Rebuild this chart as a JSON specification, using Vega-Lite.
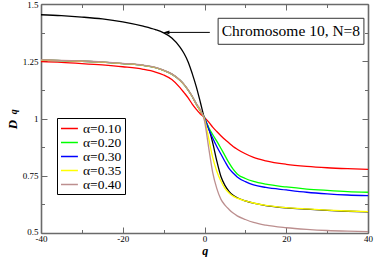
{
  "$schema": "https://vega.github.io/schema/vega-lite/v6.json",
  "width": 327,
  "height": 229,
  "autosize": {"type": "none"},
  "padding": {"left": 41, "top": 4, "right": 6, "bottom": 24},
  "background": "white",
  "config": {
    "view": {"stroke": null},
    "font": "Liberation Serif",
    "axis": {
      "grid": false,
      "domainColor": "#6a6a6a",
      "domainWidth": 1.6,
      "tickColor": "#6a6a6a",
      "tickWidth": 1,
      "labelFont": "Liberation Serif",
      "labelFontSize": 9,
      "labelColor": "black",
      "labelFlush": false,
      "labelOverlap": false,
      "titleFont": "Liberation Serif",
      "titleColor": "black"
    }
  },
  "datasets": {
    "alpha": [
      {"series": "α=0.10", "q": -40, "D": 1.248}, {"series": "α=0.10", "q": -35, "D": 1.245}, {"series": "α=0.10", "q": -30, "D": 1.240}, {"series": "α=0.10", "q": -25, "D": 1.234}, {"series": "α=0.10", "q": -20, "D": 1.226}, {"series": "α=0.10", "q": -15, "D": 1.215}, {"series": "α=0.10", "q": -12, "D": 1.203}, {"series": "α=0.10", "q": -10, "D": 1.190}, {"series": "α=0.10", "q": -8, "D": 1.170}, {"series": "α=0.10", "q": -6, "D": 1.135}, {"series": "α=0.10", "q": -5, "D": 1.113}, {"series": "α=0.10", "q": -4, "D": 1.090}, {"series": "α=0.10", "q": -3, "D": 1.063}, {"series": "α=0.10", "q": -2, "D": 1.040}, {"series": "α=0.10", "q": -1, "D": 1.020}, {"series": "α=0.10", "q": 0, "D": 1.005}, {"series": "α=0.10", "q": 1, "D": 0.985}, {"series": "α=0.10", "q": 2, "D": 0.962}, {"series": "α=0.10", "q": 3, "D": 0.943}, {"series": "α=0.10", "q": 4, "D": 0.925}, {"series": "α=0.10", "q": 5, "D": 0.908}, {"series": "α=0.10", "q": 6, "D": 0.893}, {"series": "α=0.10", "q": 7, "D": 0.878}, {"series": "α=0.10", "q": 8, "D": 0.866}, {"series": "α=0.10", "q": 10, "D": 0.846}, {"series": "α=0.10", "q": 12, "D": 0.830}, {"series": "α=0.10", "q": 15, "D": 0.815}, {"series": "α=0.10", "q": 20, "D": 0.800}, {"series": "α=0.10", "q": 25, "D": 0.791}, {"series": "α=0.10", "q": 30, "D": 0.785}, {"series": "α=0.10", "q": 35, "D": 0.781}, {"series": "α=0.10", "q": 40, "D": 0.778},
      {"series": "α=0.20", "q": -40, "D": 1.255}, {"series": "α=0.20", "q": -35, "D": 1.253}, {"series": "α=0.20", "q": -30, "D": 1.250}, {"series": "α=0.20", "q": -25, "D": 1.246}, {"series": "α=0.20", "q": -20, "D": 1.240}, {"series": "α=0.20", "q": -15, "D": 1.232}, {"series": "α=0.20", "q": -12, "D": 1.222}, {"series": "α=0.20", "q": -10, "D": 1.210}, {"series": "α=0.20", "q": -8, "D": 1.194}, {"series": "α=0.20", "q": -6, "D": 1.167}, {"series": "α=0.20", "q": -5, "D": 1.148}, {"series": "α=0.20", "q": -4, "D": 1.124}, {"series": "α=0.20", "q": -3, "D": 1.096}, {"series": "α=0.20", "q": -2, "D": 1.063}, {"series": "α=0.20", "q": -1, "D": 1.033}, {"series": "α=0.20", "q": 0, "D": 1.003}, {"series": "α=0.20", "q": 1, "D": 0.962}, {"series": "α=0.20", "q": 2, "D": 0.930}, {"series": "α=0.20", "q": 3, "D": 0.901}, {"series": "α=0.20", "q": 4, "D": 0.870}, {"series": "α=0.20", "q": 5, "D": 0.838}, {"series": "α=0.20", "q": 6, "D": 0.806}, {"series": "α=0.20", "q": 7, "D": 0.779}, {"series": "α=0.20", "q": 8, "D": 0.758}, {"series": "α=0.20", "q": 10, "D": 0.738}, {"series": "α=0.20", "q": 12, "D": 0.725}, {"series": "α=0.20", "q": 15, "D": 0.713}, {"series": "α=0.20", "q": 20, "D": 0.701}, {"series": "α=0.20", "q": 25, "D": 0.692}, {"series": "α=0.20", "q": 30, "D": 0.686}, {"series": "α=0.20", "q": 35, "D": 0.681}, {"series": "α=0.20", "q": 40, "D": 0.678},
      {"series": "α=0.30", "q": -40, "D": 1.255}, {"series": "α=0.30", "q": -35, "D": 1.253}, {"series": "α=0.30", "q": -30, "D": 1.250}, {"series": "α=0.30", "q": -25, "D": 1.246}, {"series": "α=0.30", "q": -20, "D": 1.240}, {"series": "α=0.30", "q": -15, "D": 1.232}, {"series": "α=0.30", "q": -12, "D": 1.222}, {"series": "α=0.30", "q": -10, "D": 1.210}, {"series": "α=0.30", "q": -8, "D": 1.194}, {"series": "α=0.30", "q": -6, "D": 1.167}, {"series": "α=0.30", "q": -5, "D": 1.148}, {"series": "α=0.30", "q": -4, "D": 1.124}, {"series": "α=0.30", "q": -3, "D": 1.096}, {"series": "α=0.30", "q": -2, "D": 1.063}, {"series": "α=0.30", "q": -1, "D": 1.033}, {"series": "α=0.30", "q": 0, "D": 1.003}, {"series": "α=0.30", "q": 1, "D": 0.955}, {"series": "α=0.30", "q": 2, "D": 0.915}, {"series": "α=0.30", "q": 3, "D": 0.878}, {"series": "α=0.30", "q": 4, "D": 0.845}, {"series": "α=0.30", "q": 5, "D": 0.812}, {"series": "α=0.30", "q": 6, "D": 0.782}, {"series": "α=0.30", "q": 7, "D": 0.762}, {"series": "α=0.30", "q": 8, "D": 0.745}, {"series": "α=0.30", "q": 10, "D": 0.724}, {"series": "α=0.30", "q": 12, "D": 0.710}, {"series": "α=0.30", "q": 15, "D": 0.699}, {"series": "α=0.30", "q": 20, "D": 0.688}, {"series": "α=0.30", "q": 25, "D": 0.678}, {"series": "α=0.30", "q": 30, "D": 0.671}, {"series": "α=0.30", "q": 35, "D": 0.666}, {"series": "α=0.30", "q": 40, "D": 0.663},
      {"series": "α=0.35", "q": -40, "D": 1.255}, {"series": "α=0.35", "q": -35, "D": 1.253}, {"series": "α=0.35", "q": -30, "D": 1.250}, {"series": "α=0.35", "q": -25, "D": 1.246}, {"series": "α=0.35", "q": -20, "D": 1.240}, {"series": "α=0.35", "q": -15, "D": 1.232}, {"series": "α=0.35", "q": -12, "D": 1.222}, {"series": "α=0.35", "q": -10, "D": 1.210}, {"series": "α=0.35", "q": -8, "D": 1.194}, {"series": "α=0.35", "q": -6, "D": 1.167}, {"series": "α=0.35", "q": -5, "D": 1.148}, {"series": "α=0.35", "q": -4, "D": 1.124}, {"series": "α=0.35", "q": -3, "D": 1.096}, {"series": "α=0.35", "q": -2, "D": 1.063}, {"series": "α=0.35", "q": -1, "D": 1.033}, {"series": "α=0.35", "q": 0, "D": 0.998}, {"series": "α=0.35", "q": 1, "D": 0.915}, {"series": "α=0.35", "q": 2, "D": 0.830}, {"series": "α=0.35", "q": 3, "D": 0.770}, {"series": "α=0.35", "q": 4, "D": 0.727}, {"series": "α=0.35", "q": 5, "D": 0.695}, {"series": "α=0.35", "q": 6, "D": 0.675}, {"series": "α=0.35", "q": 7, "D": 0.661}, {"series": "α=0.35", "q": 8, "D": 0.652}, {"series": "α=0.35", "q": 10, "D": 0.640}, {"series": "α=0.35", "q": 12, "D": 0.631}, {"series": "α=0.35", "q": 15, "D": 0.621}, {"series": "α=0.35", "q": 20, "D": 0.611}, {"series": "α=0.35", "q": 25, "D": 0.605}, {"series": "α=0.35", "q": 30, "D": 0.600}, {"series": "α=0.35", "q": 35, "D": 0.596}, {"series": "α=0.35", "q": 40, "D": 0.593},
      {"series": "α=0.40", "q": -40, "D": 1.256}, {"series": "α=0.40", "q": -35, "D": 1.254}, {"series": "α=0.40", "q": -30, "D": 1.251}, {"series": "α=0.40", "q": -25, "D": 1.247}, {"series": "α=0.40", "q": -20, "D": 1.241}, {"series": "α=0.40", "q": -15, "D": 1.233}, {"series": "α=0.40", "q": -12, "D": 1.223}, {"series": "α=0.40", "q": -10, "D": 1.211}, {"series": "α=0.40", "q": -8, "D": 1.195}, {"series": "α=0.40", "q": -6, "D": 1.168}, {"series": "α=0.40", "q": -5, "D": 1.149}, {"series": "α=0.40", "q": -4, "D": 1.125}, {"series": "α=0.40", "q": -3, "D": 1.097}, {"series": "α=0.40", "q": -2, "D": 1.065}, {"series": "α=0.40", "q": -1, "D": 1.038}, {"series": "α=0.40", "q": 0, "D": 0.990}, {"series": "α=0.40", "q": 1, "D": 0.875}, {"series": "α=0.40", "q": 2, "D": 0.765}, {"series": "α=0.40", "q": 3, "D": 0.695}, {"series": "α=0.40", "q": 4, "D": 0.648}, {"series": "α=0.40", "q": 5, "D": 0.622}, {"series": "α=0.40", "q": 6, "D": 0.603}, {"series": "α=0.40", "q": 7, "D": 0.587}, {"series": "α=0.40", "q": 8, "D": 0.575}, {"series": "α=0.40", "q": 10, "D": 0.559}, {"series": "α=0.40", "q": 12, "D": 0.546}, {"series": "α=0.40", "q": 15, "D": 0.534}, {"series": "α=0.40", "q": 20, "D": 0.523}, {"series": "α=0.40", "q": 25, "D": 0.516}, {"series": "α=0.40", "q": 30, "D": 0.511}, {"series": "α=0.40", "q": 35, "D": 0.508}, {"series": "α=0.40", "q": 40, "D": 0.506}
    ],
    "chrom": [
      {"q": -40, "D": 1.453}, {"q": -35, "D": 1.449}, {"q": -30, "D": 1.443}, {"q": -25, "D": 1.435}, {"q": -20, "D": 1.422}, {"q": -15, "D": 1.403}, {"q": -12, "D": 1.388}, {"q": -10, "D": 1.374}, {"q": -8, "D": 1.352}, {"q": -6, "D": 1.312}, {"q": -5, "D": 1.284}, {"q": -4, "D": 1.247}, {"q": -3, "D": 1.196}, {"q": -2, "D": 1.138}, {"q": -1, "D": 1.070}, {"q": 0, "D": 1.000}, {"q": 1, "D": 0.958}, {"q": 2, "D": 0.895}, {"q": 3, "D": 0.815}, {"q": 4, "D": 0.748}, {"q": 5, "D": 0.708}, {"q": 6, "D": 0.682}, {"q": 7, "D": 0.665}, {"q": 8, "D": 0.654}, {"q": 10, "D": 0.640}, {"q": 12, "D": 0.630}, {"q": 15, "D": 0.620}, {"q": 20, "D": 0.610}, {"q": 25, "D": 0.604}, {"q": 30, "D": 0.599}, {"q": 35, "D": 0.595}, {"q": 40, "D": 0.592}
    ],
    "one": [{"note": "annotation"}]
  },
  "layer": [
    {
      "data": {"name": "chrom"},
      "mark": {"type": "line", "color": "black", "strokeWidth": 1.3, "interpolate": "monotone"},
      "encoding": {
        "x": {
          "field": "q", "type": "quantitative",
          "scale": {"domain": [-40, 40], "nice": false, "zero": false},
          "axis": {
            "orient": "bottom",
            "values": [-40, -30, -20, -10, 0, 10, 20, 30, 40],
            "labelExpr": "datum.value % 20 == 0 ? toString(datum.value) : ''",
            "tickSize": {"condition": {"test": "datum.value % 20 != 0", "value": -3.5}, "value": -6},
            "labelPadding": 7.5,
            "title": "q",
            "titleFontStyle": "italic",
            "titleFontWeight": "bold",
            "titleFontSize": 12,
            "titleX": 163.7,
            "titleY": 21,
            "titleAlign": "center",
            "titleBaseline": "alphabetic"
          }
        },
        "y": {
          "field": "D", "type": "quantitative",
          "scale": {"domain": [0.5, 1.5], "nice": false, "zero": false},
          "axis": {
            "orient": "left",
            "values": [0.5, 0.625, 0.75, 0.875, 1, 1.125, 1.25, 1.375, 1.5],
            "labelExpr": "abs(datum.value*4 - round(datum.value*4)) > 0.01 ? '' : toString(datum.value)",
            "tickSize": {"condition": {"test": "abs(datum.value*4 - round(datum.value*4)) > 0.01", "value": -3.5}, "value": -6},
            "labelOffset": {"condition": {"test": "datum.value < 0.55", "value": -2}, "value": 0},
            "labelPadding": 9,
            "title": "D",
            "titleFontStyle": "italic",
            "titleFontWeight": "bold",
            "titleFontSize": 13,
            "titleAngle": -90,
            "titleX": -25,
            "titleY": 120,
            "titleAlign": "center",
            "titleBaseline": "alphabetic"
          }
        }
      }
    },
    {
      "data": {"name": "alpha"},
      "mark": {"type": "line", "strokeWidth": 1.3, "interpolate": "monotone"},
      "encoding": {
        "x": {
          "field": "q", "type": "quantitative",
          "axis": {
            "orient": "top",
            "values": [-40, -30, -20, -10, 0, 10, 20, 30, 40],
            "labels": false,
            "title": null,
            "tickSize": {"condition": {"test": "datum.value % 20 != 0", "value": -3.5}, "value": -6}
          }
        },
        "y": {
          "field": "D", "type": "quantitative",
          "axis": {
            "orient": "right",
            "values": [0.5, 0.625, 0.75, 0.875, 1, 1.125, 1.25, 1.375, 1.5],
            "labels": false,
            "title": null,
            "tickSize": {"condition": {"test": "abs(datum.value*4 - round(datum.value*4)) > 0.01", "value": -3.5}, "value": -6}
          }
        },
        "color": {
          "field": "series", "type": "nominal",
          "scale": {
            "domain": ["α=0.10", "α=0.20", "α=0.30", "α=0.35", "α=0.40"],
            "range": ["#ff0000", "#00ff00", "#0000ff", "#ffff00", "#bc8f8f"]
          },
          "legend": {
            "orient": "none",
            "legendX": 16,
            "legendY": 114,
            "title": null,
            "symbolType": "M-1,0H1.6",
            "symbolSize": 169,
            "symbolStrokeWidth": 1.5,
            "symbolFillColor": "transparent",
            "labelFont": "Liberation Serif",
            "labelFontSize": 13.5,
            "labelColor": "black",
            "labelOffset": 8,
            "strokeColor": "black",
            "fillColor": "white",
            "padding": 3,
            "rowPadding": 0,
            "cornerRadius": 0
          }
        }
      }
    },
    {
      "data": {"name": "one"},
      "mark": {"type": "rect", "fill": "white", "stroke": "#333333", "strokeWidth": 1},
      "encoding": {
        "x": {"datum": 3.33, "type": "quantitative", "axis": null},
        "x2": {"datum": 39.0},
        "y": {"datum": 1.4376, "type": "quantitative", "axis": null},
        "y2": {"datum": 1.324}
      }
    },
    {
      "data": {"name": "one"},
      "mark": {"type": "text", "text": "Chromosome 10, N=8", "font": "Liberation Serif", "fontSize": 15.5, "align": "center", "baseline": "middle", "color": "black"},
      "encoding": {
        "x": {"datum": 21.15, "type": "quantitative", "axis": null},
        "y": {"datum": 1.381, "type": "quantitative", "axis": null}
      }
    },
    {
      "data": {"name": "one"},
      "mark": {"type": "rule", "color": "black", "strokeWidth": 1},
      "encoding": {
        "x": {"datum": 1.3, "type": "quantitative", "axis": null},
        "x2": {"datum": -9.4},
        "y": {"datum": 1.376, "type": "quantitative", "axis": null}
      }
    },
    {
      "data": {"name": "one"},
      "mark": {"type": "point", "shape": "M-1,0L1,-0.6L1,0.6Z", "size": 40, "filled": true, "color": "black", "opacity": 1},
      "encoding": {
        "x": {"datum": -9.35, "type": "quantitative", "axis": null},
        "y": {"datum": 1.376, "type": "quantitative", "axis": null}
      }
    },
    {
      "data": {"name": "one"},
      "mark": {"type": "text", "text": "q", "font": "Liberation Serif", "fontStyle": "italic", "fontWeight": "bold", "fontSize": 10, "angle": 270, "align": "center", "baseline": "alphabetic", "color": "black"},
      "encoding": {
        "x": {"datum": -45.85, "type": "quantitative", "axis": null},
        "y": {"datum": 1.029, "type": "quantitative", "axis": null}
      }
    }
  ],
  "resolve": {"axis": {"x": "independent", "y": "independent"}}
}
